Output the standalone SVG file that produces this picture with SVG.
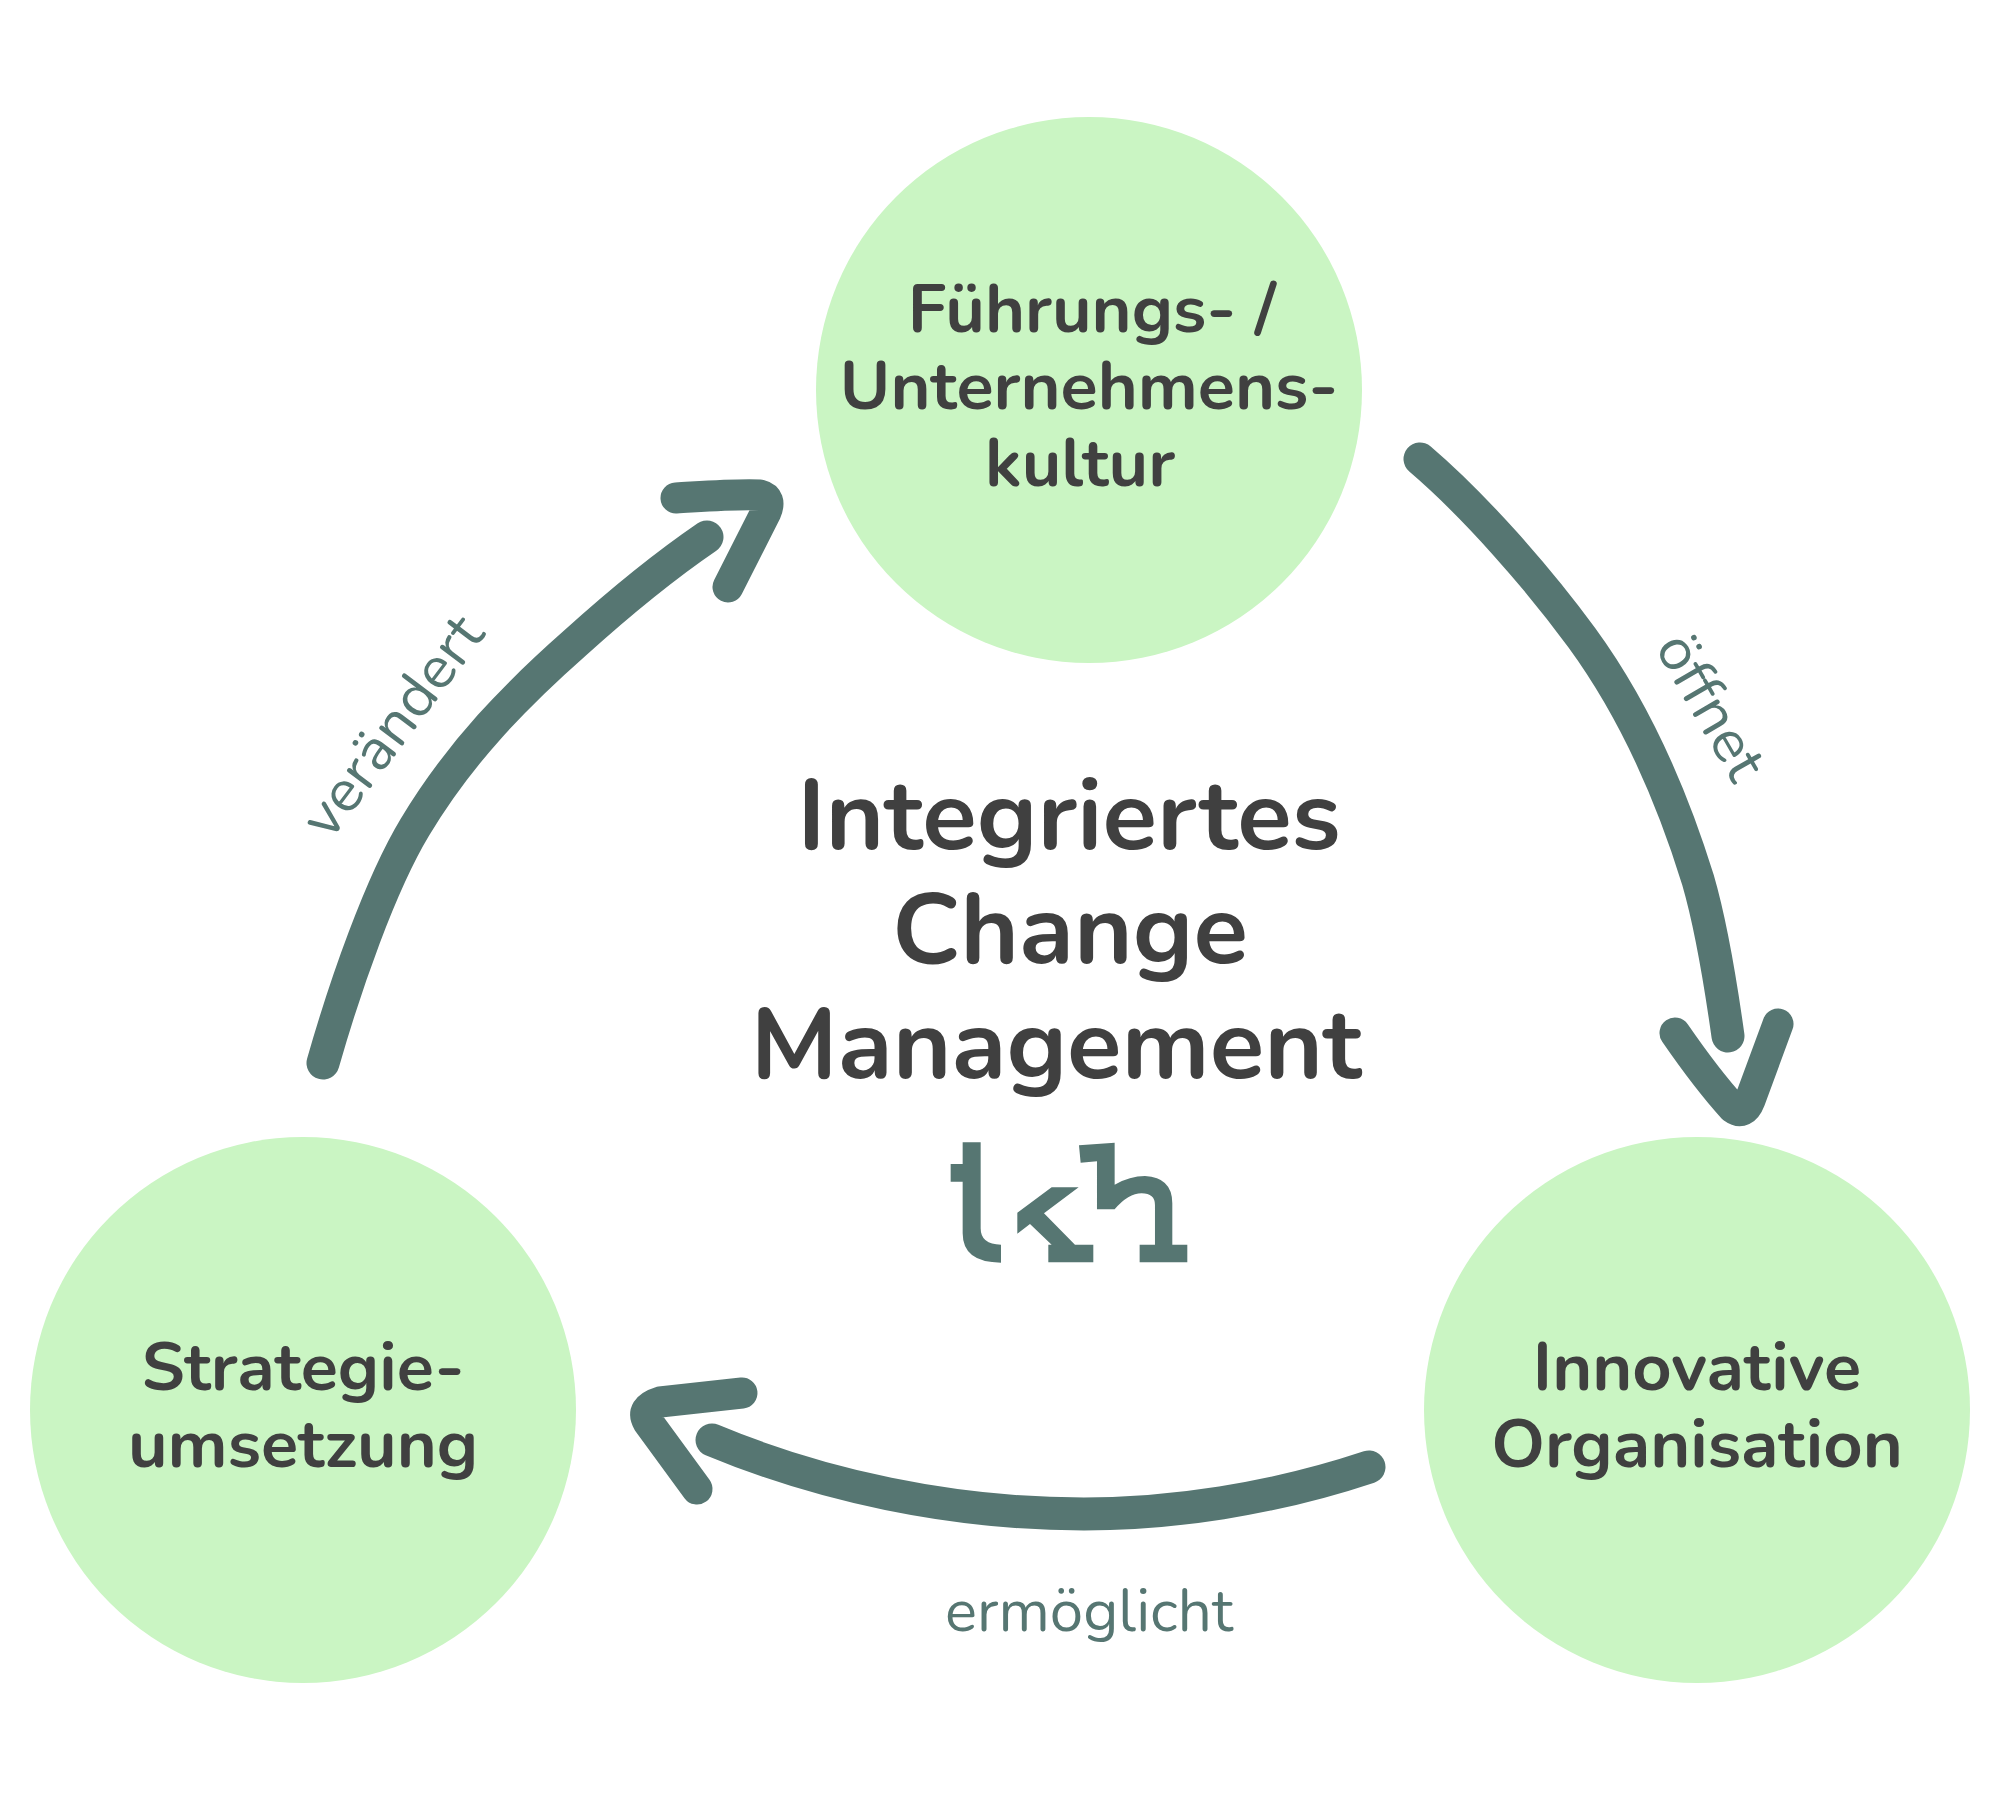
<svg xmlns="http://www.w3.org/2000/svg" width="2000" height="1800" viewBox="0 0 2000 1800">
<style>
.n{fill:#caf5c3}
.t{font-family:"Nunito","Noto Sans","Open Sans",sans-serif;font-weight:750;fill:#404040;text-anchor:middle}
.nt{font-size:68.5px}
.h{font-size:100.5px}
.l{font-family:"Nunito","Noto Sans","Open Sans",sans-serif;font-size:60px;fill:#567672;text-anchor:middle}
.a{fill:none;stroke:#567672;stroke-width:33;stroke-linecap:round;stroke-linejoin:round}
.b{fill:none;stroke:#567672;stroke-width:31;stroke-linecap:round;stroke-linejoin:round}
</style>
<rect width="2000" height="1800" fill="#fff"/>
<g id="connectors">
<path class="a" d="M1420 459C1475 506 1538 578 1582 638C1636 712 1672 796 1698 880C1712 928 1721 986 1728 1036"/>
<path class="b" d="M1675 1033C1695 1062 1712 1085 1733 1108Q1744 1116 1750 1100L1778 1024"/>
<path class="a" d="M1369 1467C1270 1500 1170 1514 1084 1514C950 1514 820 1485 712 1440"/>
<path class="b" d="M742 1393L660 1402Q640 1408 648 1422L697 1489"/>
<path class="a" d="M323 1063C345 986 380 885 415 827C460 752 516 695 575 643C616 606 666 565 707 537"/>
<path class="b" d="M676 498C710 496 735 494 760 495Q772 498 766 512L728 587"/>
</g>
<g id="node-top"><circle class="n" cx="1089" cy="390" r="273"/>
<text class="t nt" x="1092" y="332">Führungs- /</text>
<text class="t nt" x="1089" y="409">Unternehmens-</text>
<text class="t nt" x="1080" y="486">kultur</text></g>
<g id="node-right"><circle class="n" cx="1697" cy="1410" r="273"/>
<text class="t nt" x="1697" y="1390">Innovative</text>
<text class="t nt" x="1697" y="1467">Organisation</text></g>
<g id="node-left"><circle class="n" cx="303" cy="1410" r="273"/>
<text class="t nt" x="303" y="1390">Strategie-</text>
<text class="t nt" x="303" y="1467">umsetzung</text></g>
<g id="title">
<text class="t h" x="1069" y="849">Integriertes</text>
<text class="t h" x="1070" y="963">Change</text>
<text class="t h" x="1056" y="1078">Management</text>
</g>
<g id="logo" transform="translate(900 1100) scale(.3333)" fill="#567672">
<path d="M188 127H242V385Q242 434 303 434V488Q188 488 188 400V245H152V192H188Z"/>
<path d="M352 338L455 262H536L432 340L525 434H580V487H445V434H455L390 372L352 401Z"/>
<path d="M537 136L644 128V254Q690 228 735 228Q817 232 817 310V434H862V487H719V434H765V315Q765 280 725 280Q685 280 644 328H591V184L542 188Z"/>
</g>
<g id="labels">
<text class="l" transform="translate(1694 716) rotate(60)">öffnet</text>
<text class="l" transform="translate(1089 1631)">ermöglicht</text>
<text class="l" transform="translate(408 738) rotate(-53)">verändert</text>
</g>
</svg>
